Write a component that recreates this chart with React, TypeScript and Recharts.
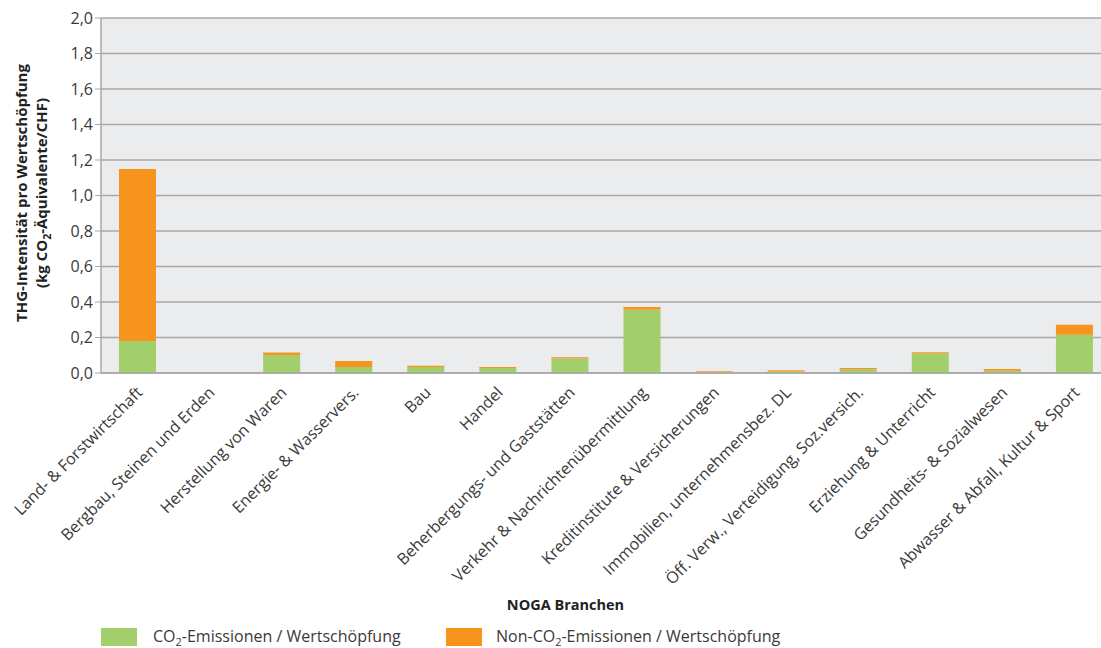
import React from 'react';
import { BarChart, Bar, XAxis, YAxis, CartesianGrid } from 'recharts';

const categories = [
  'Land- & Forstwirtschaft',
  'Bergbau, Steinen und Erden',
  'Herstellung von Waren',
  'Energie- & Wasservers.',
  'Bau',
  'Handel',
  'Beherbergungs- und Gaststätten',
  'Verkehr & Nachrichtenübermittlung',
  'Kreditinstitute & Versicherungen',
  'Immobilien, unternehmensbez. DL',
  'Öff. Verw., Verteidigung, Soz.versich.',
  'Erziehung & Unterricht',
  'Gesundheits- & Sozialwesen',
  'Abwasser & Abfall, Kultur & Sport',
];
const co2Values = [0.18, 0, 0.102, 0.034, 0.034, 0.028, 0.081, 0.357, 0.002, 0.008, 0.021, 0.11, 0.013, 0.215];
const nonCo2Values = [0.97, 0, 0.013, 0.034, 0.007, 0.006, 0.008, 0.015, 0.008, 0.007, 0.007, 0.007, 0.01, 0.057];
const yTicks = [0, 0.2, 0.4, 0.6, 0.8, 1.0, 1.2, 1.4, 1.6, 1.8, 2.0];

const data = categories.map((name, i) => ({ name, co2: co2Values[i], nonco2: nonCo2Values[i] }));

const GREEN = '#A2CF6C';
const ORANGE = '#F7941E';
const FONT = "'Open Sans', sans-serif";
const TEXT = '#3a3a3a';

const XTick = (props: any) => {
  const { x, y, payload } = props;
  return (
    <g transform={`translate(${x + 3},${y + 9})`}>
      <text transform="rotate(-45)" textAnchor="end" fontSize={16} fontFamily={FONT} fill={TEXT} dy={5}>
        {payload.value}
      </text>
    </g>
  );
};

const YLabel = () => (
  <g>
    <text transform="translate(27,193) rotate(-90)" textAnchor="middle" fontSize={15} fontWeight="bold" fontFamily={FONT} fill="#222">
      THG-Intensität pro Wertschöpfung
    </text>
    <text transform="translate(47,193) rotate(-90)" textAnchor="middle" fontSize={15} fontWeight="bold" fontFamily={FONT} fill="#222">
      <tspan>(kg CO</tspan>
      <tspan fontSize={10.5} dy={4}>2</tspan>
      <tspan dy={-4}>-Äquivalente/CHF)</tspan>
    </text>
  </g>
);

export default function App() {
  return (
    <div style={{ position: 'absolute', left: 0, top: 0, width: 1101, height: 648, background: '#fff', overflow: 'hidden' }}>
      <BarChart
        width={1110}
        height={648}
        data={data}
        margin={{ top: 18, right: 0, bottom: 0, left: 0 }}
        barSize={37}
      >
        <CartesianGrid vertical={false} stroke="#a8a8a8" strokeWidth={1.5} fill="#EBECEE" />
        <XAxis
          dataKey="name"
          height={275}
          interval={0}
          tickLine={false}
          axisLine={{ stroke: '#a8a8a8', strokeWidth: 1.5 }}
          tick={<XTick />}
          label={{
            value: 'NOGA Branchen',
            position: 'insideBottom',
            offset: 38,
            dx: -40,
            style: { fontSize: 14.5, fontWeight: 'bold', fontFamily: FONT, fill: '#222' },
          }}
        />
        <YAxis
          width={101}
          domain={[0, 2]}
          ticks={yTicks}
          interval={0}
          tickFormatter={(v: number) => v.toFixed(1).replace('.', ',')}
          tick={{ fontSize: 16, fontFamily: FONT, fill: TEXT }}
          tickLine={{ stroke: '#a8a8a8' }}
          tickSize={6}
          axisLine={{ stroke: '#a8a8a8', strokeWidth: 1.5 }}
          label={<YLabel />}
        />
        <Bar dataKey="co2" stackId="a" fill={GREEN} isAnimationActive={false} />
        <Bar dataKey="nonco2" stackId="a" fill={ORANGE} isAnimationActive={false} />
      </BarChart>
      <div style={{ position: 'absolute', top: 625, left: 101, display: 'flex', fontFamily: FONT, fontSize: 16, color: TEXT }}>
        <div style={{ display: 'flex', alignItems: 'center', width: 345 }}>
          <div style={{ width: 36, height: 18, background: GREEN, marginRight: 16 }} />
          <span>CO<sub style={{ fontSize: 11 }}>2</sub>-Emissionen / Wertschöpfung</span>
        </div>
        <div style={{ display: 'flex', alignItems: 'center' }}>
          <div style={{ width: 36, height: 18, background: ORANGE, marginRight: 14 }} />
          <span>Non-CO<sub style={{ fontSize: 11 }}>2</sub>-Emissionen / Wertschöpfung</span>
        </div>
      </div>
    </div>
  );
}
